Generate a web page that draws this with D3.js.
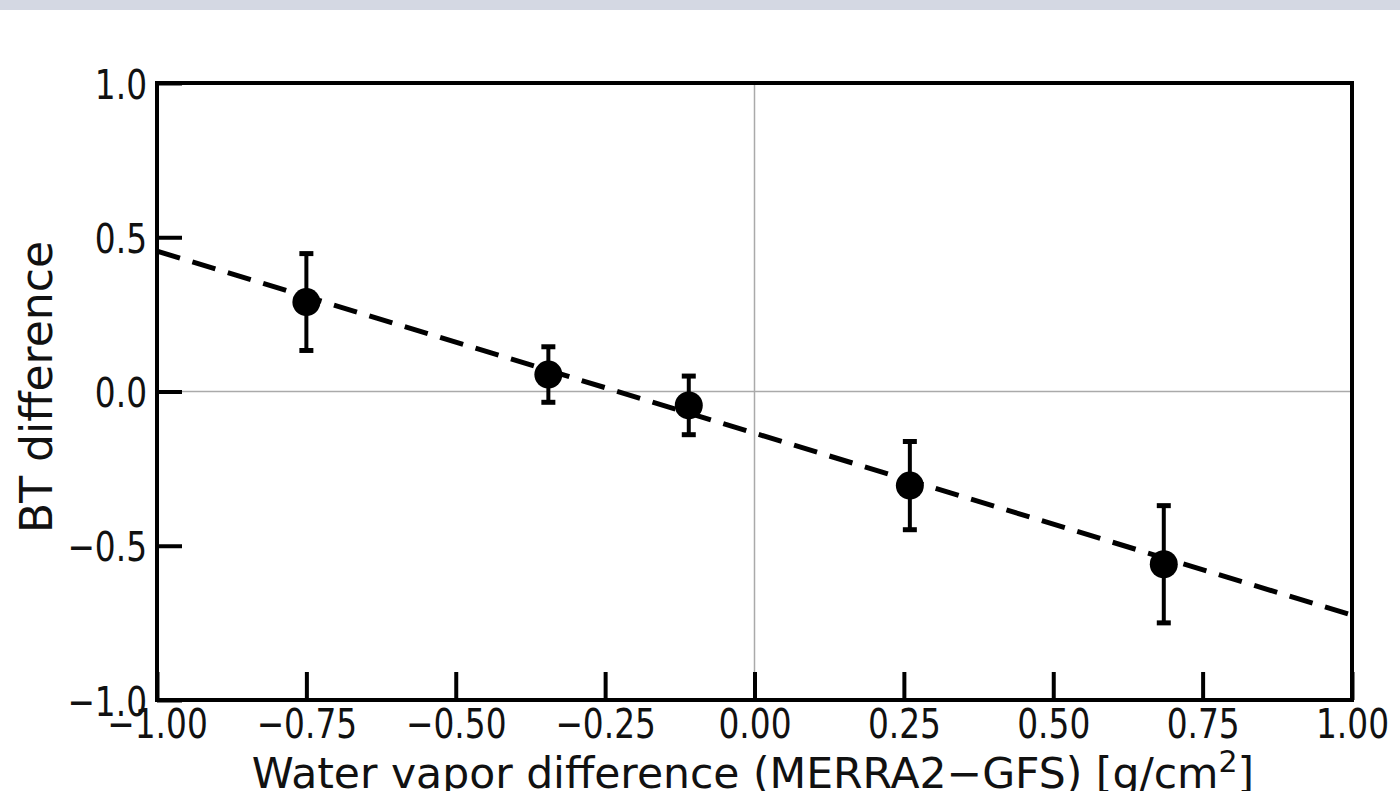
<!DOCTYPE html>
<html>
<head>
<meta charset="utf-8">
<script src="https://cdn.jsdelivr.net/npm/d3@7"></script>
<style>
  body { margin: 0; background: #fff; overflow: hidden; }
  svg { display: block; }
  text { font-family: "DejaVu Sans", sans-serif; fill: #111; }
</style>
</head>
<body>
<div id="chart"></div>
<script>
// data
var wvDiff = [-0.75, -0.345, -0.11, 0.26, 0.685];
var btDiff = [0.29, 0.055, -0.045, -0.305, -0.56];
var btErr = [0.157, 0.09, 0.095, 0.143, 0.19];
var fitSlope = -0.59, fitIntercept = -0.135;
var xTicks = [-1.0, -0.75, -0.5, -0.25, 0.0, 0.25, 0.5, 0.75, 1.0];
var yTicks = [-1.0, -0.5, 0.0, 0.5, 1.0];

var W = 1400, H = 791;
var margin = {top: 83, right: 48, bottom: 91, left: 157},
    width = W - margin.left - margin.right,
    height = H - margin.top - margin.bottom;

var svg = d3.select("#chart").append("svg").attr("width", W).attr("height", H)
svg.append("rect").attr("x", 0).attr("y", 0).attr("width", W).attr("height", 10).attr("fill", "#d4d8e3")

var g = svg.append("g").attr("transform", "translate(" + margin.left + "," + margin.top + ")")

var x = d3.scaleLinear().domain([-1, 1]).range([0, width]);
var y = d3.scaleLinear().domain([-1, 1]).range([height, 0]);

var fmt = function(d) { return d3.format(".2f")(d).replace("-", "\u2212"); };
var fmtY = function(d) { return d3.format(".1f")(d).replace("-", "\u2212"); };

// zero lines
g.append("line").attr("x1", x(0)).attr("x2", x(0)).attr("y1", 0).attr("y2", height)
  .style("stroke", "#aaa").style("stroke-width", 1.5)
g.append("line").attr("x1", 0).attr("x2", width).attr("y1", y(0)).attr("y2", y(0))
  .style("stroke", "#aaa").style("stroke-width", 1.5)

// fitted dashed line
g.append("line")
  .attr("x1", x(-1)).attr("y1", y(fitSlope * -1 + fitIntercept))
  .attr("x2", x(1)).attr("y2", y(fitSlope * 1 + fitIntercept))
  .style("stroke", "#000").style("stroke-width", 5).style("stroke-dasharray", "24, 13")

var pts = wvDiff.map(function(d, i) { return {x: d, y: btDiff[i], e: btErr[i]}; });

// error bars
var eb = g.append("g").selectAll("g").data(pts).enter().append("g")
eb.append("line")
  .attr("x1", function(d) { return x(d.x); }).attr("x2", function(d) { return x(d.x); })
  .attr("y1", function(d) { return y(d.y + d.e); }).attr("y2", function(d) { return y(d.y - d.e); })
  .style("stroke", "#000").style("stroke-width", 4)
eb.append("line")
  .attr("x1", function(d) { return x(d.x) - 7; }).attr("x2", function(d) { return x(d.x) + 7; })
  .attr("y1", function(d) { return y(d.y + d.e); }).attr("y2", function(d) { return y(d.y + d.e); })
  .style("stroke", "#000").style("stroke-width", 5)
eb.append("line")
  .attr("x1", function(d) { return x(d.x) - 7; }).attr("x2", function(d) { return x(d.x) + 7; })
  .attr("y1", function(d) { return y(d.y - d.e); }).attr("y2", function(d) { return y(d.y - d.e); })
  .style("stroke", "#000").style("stroke-width", 5)
eb.append("circle")
  .attr("cx", function(d) { return x(d.x); }).attr("cy", function(d) { return y(d.y); })
  .attr("r", 14).style("fill", "#000")

// axes: ticks inward
var xAxis = d3.axisBottom(x).tickValues(xTicks).tickSize(-28).tickFormat(fmt)
var yAxis = d3.axisLeft(y).tickValues(yTicks).tickSize(-25).tickFormat(fmtY)

var gx = g.append("g").attr("transform", "translate(0," + height + ")").call(xAxis)
var gy = g.append("g").call(yAxis)
;[gx, gy].forEach(function(a) {
  a.select(".domain").remove()
  a.selectAll(".tick line").style("stroke", "#000").style("stroke-width", 4)
})
gx.selectAll(".tick text").attr("y", 0).attr("dy", 0)
  .attr("transform", "translate(0,38) scale(0.8,1)")
  .style("font-size", "41px").style("fill", "#111")
gy.selectAll(".tick text").attr("x", 0).attr("dy", 0)
  .attr("transform", "translate(-10,15) scale(0.8,1)")
  .style("font-size", "41px").style("fill", "#111")

// frame
g.append("rect").attr("x", 0).attr("y", 0).attr("width", width).attr("height", height)
  .style("fill", "none").style("stroke", "#000").style("stroke-width", 4)

// labels
var xl = svg.append("text").attr("text-anchor", "middle")
  .attr("transform", "translate(753,788)")
  .style("font-size", "42.5px")
xl.append("tspan").text("Water vapor difference (MERRA2\u2212GFS) [g/cm")
xl.append("tspan").text("2").attr("dy", -16).style("font-size", "30px")
xl.append("tspan").text("]").attr("dy", 16)

svg.append("text").attr("text-anchor", "middle")
  .attr("transform", "translate(52,387) rotate(-90)")
  .style("font-size", "44px").text("BT difference")
</script>
</body>
</html>
